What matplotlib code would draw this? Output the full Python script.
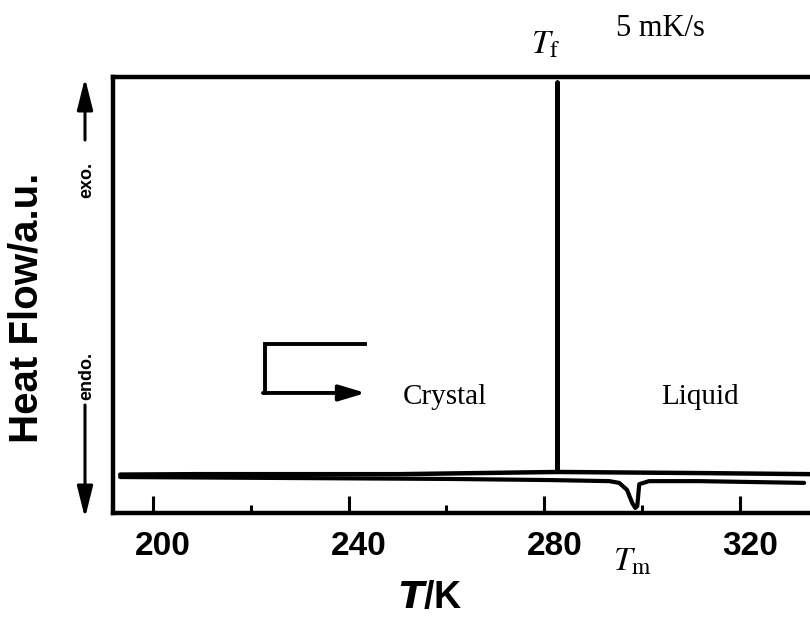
import matplotlib
matplotlib.use("Agg")
import matplotlib.pyplot as plt
from matplotlib.patches import FancyArrowPatch
from matplotlib.transforms import ScaledTranslation

# DSC trace, temperature in K, heat flow in arbitrary units
cool_T = [334.3, 311.6, 282.7, 282.7, 282.7, 250.4, 209.6, 193.3]
cool_hf = [8.9, 9.15, 9.4, 98.6, 9.4, 8.9, 8.9, 8.8]

heat_T = [193.3, 230.0, 260.6, 281.0, 293.3, 295.3, 296.9, 297.96, 298.6,
          299.0, 299.4, 301.4, 311.6, 333.1]
heat_hf = [8.24, 8.0, 7.8, 7.55, 7.3, 6.9, 5.3, 2.3, 1.15, 1.6, 6.6, 7.3,
           7.3, 6.9]

major_ticks = [200, 240, 280, 320]
minor_ticks = [220, 260, 300]

W, H = 810, 623


def px(x, y):
    return x / W, 1 - y / H


fig = plt.figure(figsize=(W / 100, H / 100), dpi=100)
ax = fig.add_axes([113 / W, 1 - 513 / H, 1 - 113 / W, (513 - 76.5) / H])

ax.plot(cool_T, cool_hf, color="black", lw=3.2, solid_capstyle="round")
ax.plot(heat_T, heat_hf, color="black", lw=3.0, solid_capstyle="round")

ax.set_xlim(191.84, 334.3)
ax.set_ylim(0, 100)
ax.spines["right"].set_visible(False)
for s in ("left", "top", "bottom"):
    ax.spines[s].set_linewidth(3.2)

ax.set_xticks(major_ticks)
ax.set_xticks(minor_ticks, minor=True)
ax.set_yticks([])
ax.tick_params(axis="x", which="major", direction="in", length=12, width=2.2,
               pad=13, labelsize=24)
ax.tick_params(axis="x", which="minor", direction="in", length=6, width=2.2)
shift = ScaledTranslation(0.10, 0, fig.dpi_scale_trans)
for lab in ax.get_xticklabels():
    lab.set_fontfamily("Liberation Sans")
    lab.set_fontweight("bold")
    lab.set_transform(lab.get_transform() + shift)

# heating direction marker
ax.plot([243.3, 222.9, 222.9], [38.7, 38.7, 27.5], color="black", lw=2.8,
        solid_joinstyle="miter")
ax.annotate("", xy=(243.5, 27.5), xytext=(222.5, 27.5),
            arrowprops=dict(arrowstyle="-|>,head_length=1.0,head_width=0.3",
                            color="black", lw=2.8, mutation_scale=16,
                            shrinkA=0, shrinkB=0))

serif = "Liberation Serif"
fig.text(*px(445, 397), "Crystal", ha="center", va="center", fontsize=21,
         family=serif)
fig.text(*px(700, 397), "Liquid", ha="center", va="center", fontsize=21,
         family=serif)
fig.text(*px(660, 28), "5 mK/s", ha="center", va="center", fontsize=22,
         family=serif)
fig.text(*px(546, 45), r"$\mathit{T}_{\rm f}$", ha="center", va="center",
         fontsize=24, family=serif, math_fontfamily="stix")
fig.text(*px(632, 562), r"$\mathit{T}_{\rm m}$", ha="center", va="center",
         fontsize=24, family=serif, math_fontfamily="stix")

# axis titles
fig.text(*px(27, 308), "Heat Flow/a.u.", rotation=90, ha="center",
         va="center", fontsize=29, fontweight="bold", family="Liberation Sans")
fig.text(*px(430, 598), r"$\boldsymbol{T}$/K", ha="center", va="center",
         fontsize=27, fontweight="bold", family="Liberation Sans",
         math_fontfamily="dejavusans")

fig.text(*px(87, 180), "exo.", rotation=90, ha="center", va="center",
         fontsize=13, fontweight="bold", family="Liberation Sans")
fig.text(*px(87, 376), "endo.", rotation=90, ha="center", va="center",
         fontsize=13, fontweight="bold", family="Liberation Sans")
arrow = dict(arrowstyle="-|>,head_length=1.2,head_width=0.3", color="black",
             lw=2.2, mutation_scale=16, shrinkA=0, shrinkB=0)
fig.add_artist(FancyArrowPatch(px(85, 140), px(85, 78),
                               transform=fig.transFigure, **arrow))
fig.add_artist(FancyArrowPatch(px(85, 405), px(85, 518),
                               transform=fig.transFigure, **arrow))

fig.savefig("out.png", dpi=100)
